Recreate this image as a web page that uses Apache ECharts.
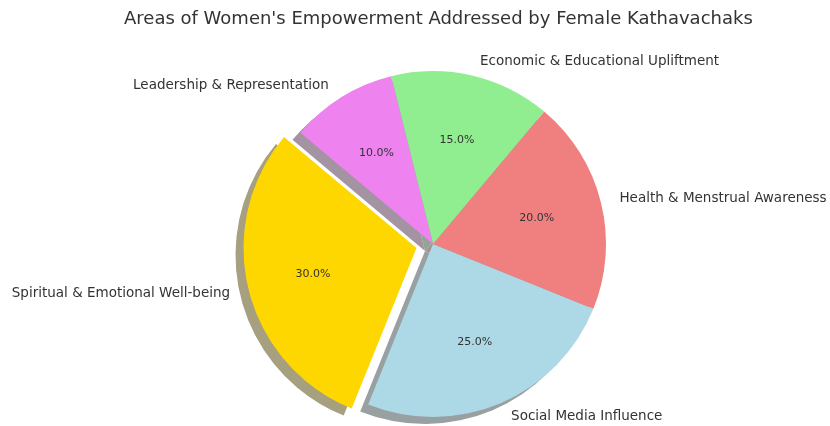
<!DOCTYPE html>
<html><head><meta charset="utf-8">
<script src="https://cdn.jsdelivr.net/npm/echarts@6/dist/echarts.min.js"></script>
<style>html,body{margin:0;padding:0;background:#fff}#c{width:830px;height:426px}</style>
</head><body><div id="c"></div>
<script>
const categories = ["Spiritual & Emotional Well-being","Social Media Influence","Health & Menstrual Awareness","Economic & Educational Upliftment","Leadership & Representation"];
const values = [30, 25, 20, 15, 10];
const colors = ["#FFD700","#ADD8E6","#F08080","#90EE90","#EE82EE"];
const exploded = [true, false, false, false, false];

function shade(hex){
  const n=parseInt(hex.slice(1),16);
  const r=(n>>16)&255,g=(n>>8)&255,b=n&255;
  const f=c=>Math.round(0.5*255+0.5*0.3*c);
  return `rgb(${f(r)},${f(g)},${f(b)})`;
}
const CX=433, CY=244, R=173, OFF=17;
const ff='"DejaVu Sans", sans-serif';
function mk(colorFn){
  return categories.map((c,i)=>({name:c,value:values[i],selected:exploded[i],itemStyle:{color:colorFn(i)}}));
}
const chart=echarts.init(document.getElementById('c'),null,{renderer:'canvas'});
chart.setOption({
  animation:false,
  title:{text:"Areas of Women's Empowerment Addressed by Female Kathavachaks",left:119,top:5,
    textStyle:{fontFamily:ff,fontSize:18,fontWeight:'normal',color:'#333'}},
  series:[
    {type:'pie',z:1,silent:true,center:[CX-8,CY+7],radius:R,startAngle:140,clockwise:false,
     selectedMode:'multiple',selectedOffset:OFF,label:{show:false},labelLine:{show:false},
     emphasis:{disabled:true},data:mk(i=>shade(colors[i]))},
    {type:'pie',z:2,silent:true,center:[CX,CY],radius:R,startAngle:140,clockwise:false,
     selectedMode:'multiple',selectedOffset:OFF,avoidLabelOverlap:false,
     itemStyle:{borderWidth:0},
     label:{show:true,position:'outside',fontFamily:ff,fontSize:13.5,color:'#333',formatter:'{b}'},
     labelLine:{show:false,length:14,length2:0},
     emphasis:{disabled:true},data:mk(i=>colors[i])},
    {type:'pie',z:3,silent:true,center:[CX,CY],radius:R*1.2,startAngle:140,clockwise:false,
     selectedMode:'multiple',selectedOffset:OFF,avoidLabelOverlap:false,
     itemStyle:{color:'rgba(0,0,0,0)',borderWidth:0},
     label:{show:true,position:'inside',fontFamily:ff,fontSize:11,color:'#333',
       formatter:p=>p.percent.toFixed(1)+'%'},
     labelLine:{show:false},
     emphasis:{disabled:true},data:mk(i=>'rgba(0,0,0,0)')}
  ]
});
</script></body></html>
